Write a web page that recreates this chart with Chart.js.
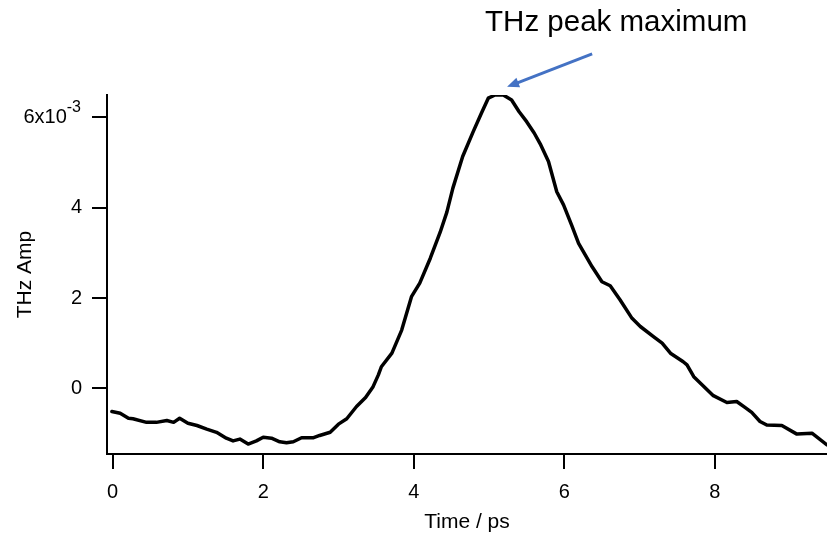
<!DOCTYPE html>
<html>
<head>
<meta charset="utf-8">
<script src="https://cdn.jsdelivr.net/npm/chart.js@4/dist/chart.umd.min.js"></script>
<style>
  html, body { margin: 0; padding: 0; background: #fff; }
  canvas { display: block; }
</style>
</head>
<body>
<canvas id="chart" width="827" height="535"></canvas>
<script>
// Temps (ps)
const temps = [
  -0.01, 0.10, 0.21, 0.27, 0.45, 0.58, 0.72, 0.81, 0.89, 1.00,
  1.12, 1.25, 1.38, 1.51, 1.60, 1.69, 1.80, 1.91, 2.00, 2.11,
  2.22, 2.31, 2.40, 2.51, 2.67, 2.75, 2.89, 3.00, 3.11, 3.24,
  3.36, 3.46, 3.53, 3.57, 3.71, 3.84, 3.97, 4.08, 4.22, 4.35,
  4.44, 4.52, 4.65, 4.79, 4.90, 4.99, 5.08, 5.19, 5.30, 5.40,
  5.50, 5.60, 5.68, 5.79, 5.90, 5.99, 6.10, 6.19, 6.28, 6.37,
  6.50, 6.61, 6.74, 6.90, 7.01, 7.18, 7.30, 7.41, 7.58, 7.63,
  7.72, 7.85, 7.98, 8.16, 8.29, 8.40, 8.49, 8.60, 8.69, 8.89,
  9.09, 9.29, 9.49
];

// Amplitud THz (x10^-3)
const amplitud = [
  -0.51, -0.55, -0.66, -0.67, -0.75, -0.75, -0.71, -0.75, -0.66, -0.77,
  -0.82, -0.90, -0.97, -1.10, -1.16, -1.12, -1.23, -1.16, -1.08, -1.10,
  -1.18, -1.20, -1.18, -1.09, -1.09, -1.04, -0.97, -0.79, -0.67, -0.40,
  -0.20, 0.04, 0.30, 0.48, 0.78, 1.29, 2.03, 2.33, 2.88, 3.45,
  3.90, 4.43, 5.13, 5.68, 6.09, 6.42, 6.49, 6.49, 6.38, 6.12,
  5.90, 5.65, 5.41, 5.02, 4.35, 4.06, 3.60, 3.21, 2.95, 2.69,
  2.36, 2.27, 1.96, 1.55, 1.37, 1.15, 1.00, 0.78, 0.59, 0.52,
  0.26, 0.05, -0.16, -0.31, -0.29, -0.42, -0.53, -0.73, -0.81, -0.82,
  -1.01, -0.99, -1.25
];

// Etiquetes
const titolX = 'Time / ps';
const titolY = 'THz Amp';
const etiquetaMax = 'THz peak maximum';
const exponentY = '-3';

// Anotacio (en unitats de dades)
const fletxaPunta = [5.24, 6.67];
const fletxaCua = [6.37, 7.40];
const textPos = [6.69, 8.09];

const punts = temps.map((t, i) => ({ x: t, y: amplitud[i] }));

const fontFamily = '"Liberation Sans", Arial, sans-serif';

// Plugin per dibuixar l'etiqueta 6x10^-3 i la fletxa
const extres = {
  id: 'extres',
  afterDraw(chart) {
    const ctx = chart.ctx;
    const xs = chart.scales.x;
    const ys = chart.scales.y;

    // etiqueta superior de l'eix Y amb exponent
    const yTop = ys.getPixelForValue(6);
    const dreta = ys.right - 15 - 11;
    ctx.save();
    ctx.fillStyle = '#000';
    ctx.textAlign = 'right';
    ctx.font = '16px ' + fontFamily;
    const wExp = ctx.measureText(exponentY).width;
    ctx.textBaseline = 'alphabetic';
    ctx.fillText(exponentY, dreta, yTop - 5);
    ctx.font = '20px ' + fontFamily;
    ctx.textBaseline = 'middle';
    ctx.fillText('6x10', dreta - wExp, yTop);

    // text de l'anotacio
    ctx.font = '29.5px ' + fontFamily;
    ctx.textAlign = 'center';
    ctx.fillText(etiquetaMax, xs.getPixelForValue(textPos[0]), ys.getPixelForValue(textPos[1]));

    // fletxa
    const x1 = xs.getPixelForValue(fletxaCua[0]), y1 = ys.getPixelForValue(fletxaCua[1]);
    const x2 = xs.getPixelForValue(fletxaPunta[0]), y2 = ys.getPixelForValue(fletxaPunta[1]);
    const ang = Math.atan2(y2 - y1, x2 - x1);
    const cap = 13;
    ctx.strokeStyle = '#4472C4';
    ctx.fillStyle = '#4472C4';
    ctx.lineWidth = 3;
    ctx.beginPath();
    ctx.moveTo(x1, y1);
    ctx.lineTo(x2 - Math.cos(ang) * cap * 0.8, y2 - Math.sin(ang) * cap * 0.8);
    ctx.stroke();
    ctx.beginPath();
    ctx.moveTo(x2, y2);
    ctx.lineTo(x2 - cap * Math.cos(ang - 0.4), y2 - cap * Math.sin(ang - 0.4));
    ctx.lineTo(x2 - cap * Math.cos(ang + 0.4), y2 - cap * Math.sin(ang + 0.4));
    ctx.closePath();
    ctx.fill();
    ctx.restore();
  }
};

new Chart(document.getElementById('chart'), {
  type: 'line',
  data: {
    datasets: [{
      data: punts,
      borderColor: '#000',
      borderWidth: 3.5,
      pointRadius: 0,
      tension: 0,
      fill: false,
      borderJoinStyle: 'round',
      borderCapStyle: 'round'
    }]
  },
  options: {
    responsive: false,
    animation: false,
    devicePixelRatio: 1,
    layout: { padding: { top: 95, right: 0, left: 0, bottom: 0 } },
    plugins: {
      legend: { display: false },
      tooltip: { enabled: false }
    },
    scales: {
      x: {
        type: 'linear',
        min: -0.075,
        max: 9.49,
        afterFit(scale) { scale.height = 81; },
        border: { display: true, color: '#000', width: 2 },
        grid: { display: true, drawOnChartArea: false, drawTicks: true, tickLength: 15, color: '#000', lineWidth: 2 },
        ticks: {
          stepSize: 2,
          includeBounds: false,
          color: '#000',
          padding: 11,
          maxRotation: 0,
          font: { size: 20, family: fontFamily }
        },
        title: {
          display: true,
          text: titolX,
          color: '#000',
          padding: { top: 0, bottom: 0 },
          font: { size: 21, family: fontFamily }
        }
      },
      y: {
        type: 'linear',
        min: -1.45,
        max: 6.49,
        afterFit(scale) { scale.width = 107; },
        border: { display: true, color: '#000', width: 2 },
        grid: { display: true, drawOnChartArea: false, drawTicks: true, tickLength: 15, color: '#000', lineWidth: 2 },
        ticks: {
          stepSize: 2,
          includeBounds: false,
          color: '#000',
          padding: 10,
          font: { size: 20, family: fontFamily },
          callback: (v) => (v === 6 ? '' : v)
        },
        title: {
          display: true,
          text: titolY,
          color: '#000',
          padding: { top: 13, bottom: 0 },
          font: { size: 21, family: fontFamily }
        }
      }
    }
  },
  plugins: [extres]
});
</script>
</body>
</html>
